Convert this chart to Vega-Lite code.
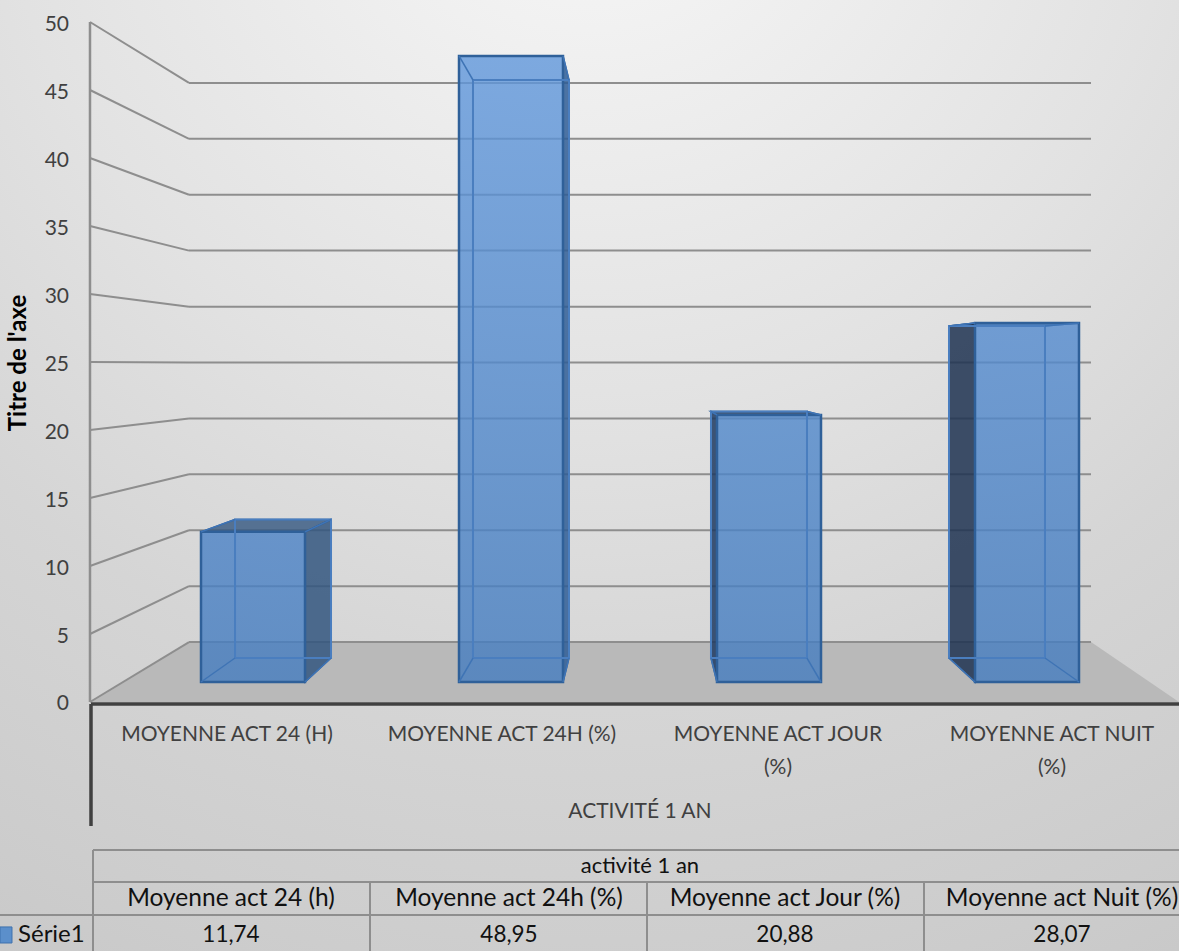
{
  "$schema": "https://vega.github.io/schema/vega-lite/v6.json",
  "width": 1179,
  "height": 951,
  "padding": 0,
  "autosize": {"type": "none"},
  "background": "#d8d8d8",
  "config": {"axis": {"disable": true}, "view": {"stroke": null}, "font": "Lato"},
  "datasets": {
    "mesures": [
      {"categorie": "Moyenne act 24 (h)", "valeur": 11.74, "fond": 12.705, "rang_g": 0.3101, "rang_d": 0.7132, "fond_g": 0.4419, "fond_d": 0.8140},
      {"categorie": "Moyenne act 24h (%)", "valeur": 48.95, "fond": 47.068, "rang_g": 1.3101, "rang_d": 1.7132, "fond_g": 1.3643, "fond_d": 1.7364},
      {"categorie": "Moyenne act Jour (%)", "valeur": 20.88, "fond": 21.149, "rang_g": 2.3101, "rang_d": 2.7132, "fond_g": 2.2868, "fond_d": 2.6589},
      {"categorie": "Moyenne act Nuit (%)", "valeur": 28.07, "fond": 27.834, "rang_g": 3.3101, "rang_d": 3.7132, "fond_g": 3.2093, "fond_d": 3.5814}
    ],
    "flancs": [
      {"barre": "A", "rang": 0.7132, "haut": 11.74, "bas": 0},
      {"barre": "A", "rang": 0.8140, "haut": 12.705, "bas": 1.876},
      {"barre": "B", "rang": 1.7132, "haut": 48.95, "bas": 0},
      {"barre": "B", "rang": 1.7364, "haut": 47.068, "bas": 1.876},
      {"barre": "C", "rang": 2.2868, "haut": 21.149, "bas": 1.876},
      {"barre": "C", "rang": 2.3101, "haut": 20.88, "bas": 0},
      {"barre": "D", "rang": 3.2093, "haut": 27.834, "bas": 1.876},
      {"barre": "D", "rang": 3.3101, "haut": 28.07, "bas": 0}
    ],
    "dessus": [
      {"barre": "A", "niveau": 11.74, "rang_g": 0.3101, "rang_d": 0.7132},
      {"barre": "A", "niveau": 12.705, "rang_g": 0.4419, "rang_d": 0.8140},
      {"barre": "C", "niveau": 20.88, "rang_g": 2.3101, "rang_d": 2.7132},
      {"barre": "C", "niveau": 21.149, "rang_g": 2.2868, "rang_d": 2.6589},
      {"barre": "D", "niveau": 28.07, "rang_g": 3.3101, "rang_d": 3.7132},
      {"barre": "D", "niveau": 27.834, "rang_g": 3.2093, "rang_d": 3.5814}
    ],
    "aretes": [
      {"rang": 0.3101, "niveau": 0, "rang2": 0.4419, "niveau2": 1.876},
      {"rang": 0.7132, "niveau": 0, "rang2": 0.8140, "niveau2": 1.876},
      {"rang": 0.3101, "niveau": 11.74, "rang2": 0.4419, "niveau2": 12.705},
      {"rang": 0.7132, "niveau": 11.74, "rang2": 0.8140, "niveau2": 12.705},
      {"rang": 1.3101, "niveau": 0, "rang2": 1.3643, "niveau2": 1.876},
      {"rang": 1.7132, "niveau": 0, "rang2": 1.7364, "niveau2": 1.876},
      {"rang": 1.3101, "niveau": 48.95, "rang2": 1.3643, "niveau2": 47.068},
      {"rang": 1.7132, "niveau": 48.95, "rang2": 1.7364, "niveau2": 47.068},
      {"rang": 2.3101, "niveau": 0, "rang2": 2.2868, "niveau2": 1.876},
      {"rang": 2.7132, "niveau": 0, "rang2": 2.6589, "niveau2": 1.876},
      {"rang": 2.3101, "niveau": 20.88, "rang2": 2.2868, "niveau2": 21.149},
      {"rang": 2.7132, "niveau": 20.88, "rang2": 2.6589, "niveau2": 21.149},
      {"rang": 3.3101, "niveau": 0, "rang2": 3.2093, "niveau2": 1.876},
      {"rang": 3.7132, "niveau": 0, "rang2": 3.5814, "niveau2": 1.876},
      {"rang": 3.3101, "niveau": 28.07, "rang2": 3.2093, "niveau2": 27.834},
      {"rang": 3.7132, "niveau": 28.07, "rang2": 3.5814, "niveau2": 27.834}
    ],
    "graduations": [
      {"graduation": 0, "fond": 4.41},
      {"graduation": 5, "fond": 8.52},
      {"graduation": 10, "fond": 12.63},
      {"graduation": 15, "fond": 16.74},
      {"graduation": 20, "fond": 20.85},
      {"graduation": 25, "fond": 24.96},
      {"graduation": 30, "fond": 29.07},
      {"graduation": 35, "fond": 33.19},
      {"graduation": 40, "fond": 37.30},
      {"graduation": 45, "fond": 41.41},
      {"graduation": 50, "fond": 45.52}
    ],
    "titre_axe": [
      {"texte": "Titre de l'axe", "rang": -0.3953, "niveau": 24.93}
    ],
    "sol": [
      {"niveau": 0, "rang_g": -0.1202, "rang_d": 4.1008},
      {"niveau": 4.41, "rang_g": 0.2636, "rang_d": 3.7597}
    ],
    "filets": [
      {"rang": -0.1085, "rang2": 4.1008, "niveau": -10.882, "niveau2": -10.882},
      {"rang": -0.1085, "rang2": 4.1008, "niveau": -13.235, "niveau2": -13.235},
      {"rang": -0.469, "rang2": 4.1008, "niveau": -15.662, "niveau2": -15.662},
      {"rang": -0.1085, "rang2": -0.1085, "niveau": -10.882, "niveau2": -18.309},
      {"rang": 0.9651, "rang2": 0.9651, "niveau": -13.235, "niveau2": -18.309},
      {"rang": 2.0388, "rang2": 2.0388, "niveau": -13.235, "niveau2": -18.309},
      {"rang": 3.1124, "rang2": 3.1124, "niveau": -13.235, "niveau2": -18.309}
    ],
    "axe_categories": [
      {"rang": -0.1163, "rang2": 4.1008, "niveau": -0.147, "niveau2": -0.147},
      {"rang": -0.1163, "rang2": -0.1163, "niveau": -0.147, "niveau2": -9.118}
    ],
    "etiquettes": [
      {"texte": "MOYENNE ACT 24 (H)", "rang": 0.4109, "niveau": -2.426},
      {"texte": "MOYENNE ACT 24H (%)", "rang": 1.4767, "niveau": -2.426},
      {"texte": "MOYENNE ACT JOUR", "rang": 2.5465, "niveau": -2.426},
      {"texte": "(%)", "rang": 2.5465, "niveau": -4.85},
      {"texte": "MOYENNE ACT NUIT", "rang": 3.6085, "niveau": -2.426},
      {"texte": "(%)", "rang": 3.6085, "niveau": -4.85},
      {"texte": "ACTIVITÉ 1 AN", "rang": 2.0116, "niveau": -8.1}
    ],
    "titre_tableau": [
      {"texte": "activité 1 an", "rang": 2.0116, "niveau": -12.06}
    ],
    "entetes": [
      {"texte": "Moyenne act 24 (h)", "rang": 0.4264, "niveau": -14.485},
      {"texte": "Moyenne act 24h (%)", "rang": 1.5039, "niveau": -14.485},
      {"texte": "Moyenne act Jour (%)", "rang": 2.5736, "niveau": -14.485},
      {"texte": "Moyenne act Nuit (%)", "rang": 3.6473, "niveau": -14.485}
    ],
    "valeurs": [
      {"texte": "11,74", "rang": 0.4264, "niveau": -17.13},
      {"texte": "48,95", "rang": 1.5039, "niveau": -17.13},
      {"texte": "20,88", "rang": 2.5736, "niveau": -17.13},
      {"texte": "28,07", "rang": 3.6473, "niveau": -17.13}
    ],
    "serie": [
      {"texte": "Série1", "rang": -0.3992, "niveau": -17.13, "cle_g": -0.469, "cle_d": -0.4225, "cle_h": -16.54, "cle_b": -17.72}
    ]
  },
  "resolve": {"scale": {"y": "independent"}},
  "layer": [
    {
      "layer": [
        {
          "data": {"name": "sol"},
          "mark": {"type": "rect", "fill": {"gradient": "radial", "x1": 0.5, "y1": -0.05, "r1": 0, "x2": 0.5, "y2": -0.05, "r2": 1.1, "stops": [{"offset": 0, "color": "#f6f6f6"}, {"offset": 0.136, "color": "#f2f2f2"}, {"offset": 0.4545, "color": "#e2e2e2"}, {"offset": 0.68, "color": "#d5d5d5"}, {"offset": 0.91, "color": "#cccccc"}, {"offset": 1, "color": "#c8c8c8"}]}},
          "encoding": {}
        },
        {
          "data": {"name": "sol"},
          "mark": {"type": "area", "orient": "horizontal", "fill": "#b9b9b9"},
          "encoding": {
            "x": {"field": "rang_g", "type": "quantitative", "scale": {"domain": [-0.469, 4.1008], "nice": false, "zero": false}},
            "x2": {"field": "rang_d"},
            "y": {"field": "niveau", "type": "quantitative", "scale": {"domain": [-18.309, 51.618], "nice": false, "zero": false}}
          }
        },
        {
          "data": {"name": "graduations"},
          "mark": {"type": "rule", "stroke": "#8e8e8e", "strokeWidth": 2},
          "encoding": {
            "x": {"datum": -0.1202, "type": "quantitative"},
            "x2": {"datum": 0.2636},
            "y": {"field": "graduation", "type": "quantitative"},
            "y2": {"field": "fond"}
          }
        },
        {
          "data": {"name": "graduations"},
          "mark": {"type": "rule", "stroke": "#8e8e8e", "strokeWidth": 2},
          "encoding": {
            "x": {"datum": 0.2636, "type": "quantitative"},
            "x2": {"datum": 3.7597},
            "y": {"field": "fond", "type": "quantitative"}
          }
        },
        {
          "data": {"name": "graduations"},
          "mark": {"type": "line", "stroke": "#8e8e8e", "strokeWidth": 2.5},
          "encoding": {
            "x": {"datum": -0.1202, "type": "quantitative"},
            "y": {"field": "graduation", "type": "quantitative"}
          }
        },
        {
          "data": {"name": "graduations"},
          "mark": {"type": "text", "font": "Lato", "fontSize": 21, "color": "#404040", "align": "right", "baseline": "middle", "dy": 2.5},
          "encoding": {
            "x": {"datum": -0.2015, "type": "quantitative"},
            "y": {"field": "graduation", "type": "quantitative"},
            "text": {"field": "graduation", "type": "quantitative"}
          }
        },
        {
          "data": {"name": "titre_axe"},
          "mark": {"type": "text", "font": "Lato", "fontSize": 24, "fontWeight": "bold", "color": "#000000", "align": "center", "baseline": "middle", "angle": 270},
          "encoding": {
            "x": {"field": "rang", "type": "quantitative"},
            "y": {"field": "niveau", "type": "quantitative"},
            "text": {"field": "texte"}
          }
        },
        {
          "data": {"name": "axe_categories"},
          "mark": {"type": "rule", "stroke": "#404040", "strokeWidth": 3.5},
          "encoding": {
            "x": {"field": "rang", "type": "quantitative"},
            "x2": {"field": "rang2"},
            "y": {"field": "niveau", "type": "quantitative"},
            "y2": {"field": "niveau2"}
          }
        },
        {
          "data": {"name": "filets"},
          "mark": {"type": "rule", "stroke": "#8e8e8e", "strokeWidth": 2},
          "encoding": {
            "x": {"field": "rang", "type": "quantitative"},
            "x2": {"field": "rang2"},
            "y": {"field": "niveau", "type": "quantitative"},
            "y2": {"field": "niveau2"}
          }
        },
        {
          "data": {"name": "etiquettes"},
          "mark": {"type": "text", "font": "Lato", "fontSize": 21, "color": "#404040", "align": "center", "baseline": "middle"},
          "encoding": {
            "x": {"field": "rang", "type": "quantitative"},
            "y": {"field": "niveau", "type": "quantitative"},
            "text": {"field": "texte"}
          }
        },
        {
          "data": {"name": "titre_tableau"},
          "mark": {"type": "text", "font": "Lato", "fontSize": 22, "color": "#111111", "align": "center", "baseline": "middle"},
          "encoding": {
            "x": {"field": "rang", "type": "quantitative"},
            "y": {"field": "niveau", "type": "quantitative"},
            "text": {"field": "texte"}
          }
        },
        {
          "data": {"name": "entetes"},
          "mark": {"type": "text", "font": "Lato", "fontSize": 24.5, "color": "#111111", "align": "center", "baseline": "middle"},
          "encoding": {
            "x": {"field": "rang", "type": "quantitative"},
            "y": {"field": "niveau", "type": "quantitative"},
            "text": {"field": "texte"}
          }
        },
        {
          "data": {"name": "valeurs"},
          "mark": {"type": "text", "font": "Lato", "fontSize": 22.5, "color": "#111111", "align": "center", "baseline": "middle"},
          "encoding": {
            "x": {"field": "rang", "type": "quantitative"},
            "y": {"field": "niveau", "type": "quantitative"},
            "text": {"field": "texte"}
          }
        },
        {
          "data": {"name": "serie"},
          "mark": {"type": "text", "font": "Lato", "fontSize": 24, "color": "#111111", "align": "left", "baseline": "middle"},
          "encoding": {
            "x": {"field": "rang", "type": "quantitative"},
            "y": {"field": "niveau", "type": "quantitative"},
            "text": {"field": "texte"}
          }
        },
        {
          "data": {"name": "serie"},
          "mark": {"type": "rect", "fill": "#5b8fcb", "stroke": "#3f72ae", "strokeWidth": 1},
          "encoding": {
            "x": {"field": "cle_g", "type": "quantitative"},
            "x2": {"field": "cle_d"},
            "y": {"field": "cle_h", "type": "quantitative"},
            "y2": {"field": "cle_b"}
          }
        }
      ]
    },
    {
      "layer": [
        {
          "data": {"name": "flancs"},
          "mark": {"type": "area", "fillOpacity": 0.85, "stroke": "#2f5f98", "strokeWidth": 1.5},
          "encoding": {
            "x": {"field": "rang", "type": "quantitative"},
            "y": {"field": "haut", "type": "quantitative", "scale": {"domain": [-21.032, 53.323], "nice": false, "zero": false}},
            "y2": {"field": "bas"},
            "color": {"field": "barre", "type": "nominal", "legend": null, "scale": {"domain": ["A", "B", "C", "D"], "range": ["#33567f", "#2f5d95", "#1f3a60", "#1f3351"]}}
          }
        },
        {
          "data": {"name": "dessus"},
          "mark": {"type": "area", "orient": "horizontal", "fillOpacity": 0.8, "stroke": "#2f5f98", "strokeWidth": 1.5},
          "encoding": {
            "x": {"field": "rang_g", "type": "quantitative"},
            "x2": {"field": "rang_d"},
            "y": {"field": "niveau", "type": "quantitative"},
            "color": {"field": "barre", "type": "nominal", "legend": null}
          }
        },
        {
          "data": {"name": "mesures"},
          "transform": [{"filter": "datum.categorie === 'Moyenne act 24 (h)'"}],
          "mark": {"type": "rect", "fillOpacity": 0.8, "stroke": "#2f6099", "strokeWidth": 2.5, "fill": {"gradient": "linear", "x1": 0, "y1": 0, "x2": 0, "y2": 1, "stops": [{"offset": 0, "color": "#4b82c6"}, {"offset": 1, "color": "#447cbf"}]}},
          "encoding": {
            "x": {"field": "rang_g", "type": "quantitative"},
            "x2": {"field": "rang_d"},
            "y": {"field": "valeur", "type": "quantitative"},
            "y2": {"datum": 0}
          }
        },
        {
          "data": {"name": "mesures"},
          "transform": [{"filter": "datum.categorie === 'Moyenne act 24h (%)'"}],
          "mark": {"type": "rect", "fillOpacity": 0.8, "stroke": "#2f6099", "strokeWidth": 2.5, "fill": {"gradient": "linear", "x1": 0, "y1": 0, "x2": 0, "y2": 1, "stops": [{"offset": 0, "color": "#6097db"}, {"offset": 1, "color": "#447cbf"}]}},
          "encoding": {
            "x": {"field": "rang_g", "type": "quantitative"},
            "x2": {"field": "rang_d"},
            "y": {"field": "valeur", "type": "quantitative"},
            "y2": {"datum": 0}
          }
        },
        {
          "data": {"name": "mesures"},
          "transform": [{"filter": "datum.categorie === 'Moyenne act Jour (%)'"}],
          "mark": {"type": "rect", "fillOpacity": 0.8, "stroke": "#2f6099", "strokeWidth": 2.5, "fill": {"gradient": "linear", "x1": 0, "y1": 0, "x2": 0, "y2": 1, "stops": [{"offset": 0, "color": "#5088cb"}, {"offset": 1, "color": "#447cbf"}]}},
          "encoding": {
            "x": {"field": "rang_g", "type": "quantitative"},
            "x2": {"field": "rang_d"},
            "y": {"field": "valeur", "type": "quantitative"},
            "y2": {"datum": 0}
          }
        },
        {
          "data": {"name": "mesures"},
          "transform": [{"filter": "datum.categorie === 'Moyenne act Nuit (%)'"}],
          "mark": {"type": "rect", "fillOpacity": 0.8, "stroke": "#2f6099", "strokeWidth": 2.5, "fill": {"gradient": "linear", "x1": 0, "y1": 0, "x2": 0, "y2": 1, "stops": [{"offset": 0, "color": "#548bcf"}, {"offset": 1, "color": "#447cbf"}]}},
          "encoding": {
            "x": {"field": "rang_g", "type": "quantitative"},
            "x2": {"field": "rang_d"},
            "y": {"field": "valeur", "type": "quantitative"},
            "y2": {"datum": 0}
          }
        },
        {
          "data": {"name": "mesures"},
          "mark": {"type": "rect", "filled": false, "stroke": "#4a7ebf", "strokeWidth": 2},
          "encoding": {
            "x": {"field": "fond_g", "type": "quantitative"},
            "x2": {"field": "fond_d"},
            "y": {"field": "fond", "type": "quantitative"},
            "y2": {"datum": 1.876}
          }
        },
        {
          "data": {"name": "aretes"},
          "mark": {"type": "rule", "stroke": "#3f74b5", "strokeWidth": 1.5},
          "encoding": {
            "x": {"field": "rang", "type": "quantitative"},
            "x2": {"field": "rang2"},
            "y": {"field": "niveau", "type": "quantitative"},
            "y2": {"field": "niveau2"}
          }
        }
      ]
    }
  ]
}
